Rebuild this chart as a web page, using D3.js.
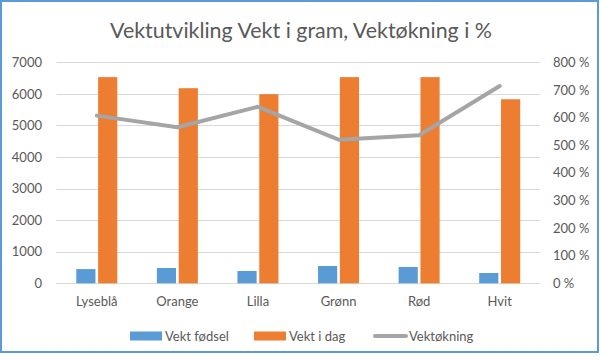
<!DOCTYPE html>
<html><head><meta charset="utf-8">
<script src="https://cdn.jsdelivr.net/npm/d3@7/dist/d3.min.js"></script>
<style>
html,body{margin:0;padding:0;background:#fff;}
svg text{font-family:Lato,"Open Sans",sans-serif;fill:#595959;}
</style></head>
<body><svg id="c" width="601" height="362"></svg>
<script>
const title = "Vektutvikling Vekt i gram, Vektøkning i %";
const categories = ["Lyseblå","Orange","Lilla","Grønn","Rød","Hvit"];
const vektFodsel = [450, 485, 390, 548, 516, 326];
const vektIDag = [6530, 6180, 5990, 6530, 6530, 5830];
const vektokning = [607, 565, 639, 520, 536, 714];
const leftTicks = [0,1000,2000,3000,4000,5000,6000,7000];
const rightTicks = [0,100,200,300,400,500,600,700,800];
const seriesNames = ["Vekt fødsel","Vekt i dag","Vektøkning"];
const colors = ["#5B9BD5","#ED7D31","#A5A5A5"];

const svg = d3.select("#c");
const plot = {left:56.5, right:540, top:62.3, bottom:283.3};

// frame
svg.append("rect").attr("x",1).attr("y",1).attr("width",597).attr("height",351)
  .attr("fill","#fff").attr("stroke","#5B9BD5").attr("stroke-width",2);

const x = d3.scaleBand().domain(categories).range([plot.left, plot.right]);
const yL = d3.scaleLinear().domain([0,7000]).range([plot.bottom, plot.top]);
const yR = d3.scaleLinear().domain([0,800]).range([plot.bottom, plot.top]);

// gridlines
svg.append("g").selectAll("line").data(leftTicks).join("line")
  .attr("x1",plot.left).attr("x2",plot.right)
  .attr("y1",d=>Math.round(yL(d))+0.5).attr("y2",d=>Math.round(yL(d))+0.5)
  .attr("stroke","#D9D9D9").attr("stroke-width",1);

const ff = "Lato,'Open Sans',sans-serif";
// left axis
const axL = d3.axisLeft(yL).tickValues(leftTicks).tickSize(0).tickPadding(0).tickFormat(d3.format("d"));
const gL = svg.append("g").attr("transform",`translate(42,0)`).call(axL);
gL.select(".domain").remove();
gL.selectAll("text").attr("font-size",13).style("font-family",ff).attr("fill","#595959");

// right axis
const axR = d3.axisRight(yR).tickValues(rightTicks).tickSize(0).tickPadding(0).tickFormat(d=>d+" %");
const gR = svg.append("g").attr("transform",`translate(553,0)`).call(axR);
gR.select(".domain").remove();
gR.selectAll("text").attr("font-size",13).style("font-family",ff).attr("fill","#595959");

// x axis labels
const axX = d3.axisBottom(x).tickSize(0).tickPadding(0);
const gX = svg.append("g").attr("transform",`translate(0,${plot.bottom+13})`).call(axX);
gX.select(".domain").remove();
gX.selectAll("text").attr("font-size",13).style("font-family",ff).attr("fill","#595959");

// bars
const inner = d3.scaleBand().domain([0,1]).range([-20.5, 20.5]).paddingInner(5/41);
const bw = inner.bandwidth();
const series = [vektFodsel, vektIDag];
series.forEach((vals,si)=>{
  svg.append("g").selectAll("rect").data(vals).join("rect")
    .attr("x",(d,i)=>x(categories[i]) + x.bandwidth()/2 + inner(si))
    .attr("width",bw)
    .attr("y",d=>yL(d))
    .attr("height",d=>yL(0)-yL(d))
    .attr("fill",colors[si]);
});

// line
const line = d3.line().x((d,i)=>x(categories[i])+x.bandwidth()/2).y(d=>yR(d));
svg.append("path").datum(vektokning).attr("d",line)
  .attr("fill","none").attr("stroke",colors[2]).attr("stroke-width",4)
  .attr("stroke-linejoin","round").attr("stroke-linecap","round");

// title
svg.append("text").attr("x",301).attr("y",38).attr("text-anchor","middle")
  .attr("font-size",22).attr("textLength",382).attr("lengthAdjust","spacingAndGlyphs").text(title);

// legend
const legY = 336;
const leg = [{x:130},{x:254},{x:373}];
leg.forEach((l,i)=>{
  if(i<2){
    svg.append("rect").attr("x",l.x).attr("y",legY-4.5).attr("width",32).attr("height",9).attr("fill",colors[i]);
  } else {
    svg.append("line").attr("x1",l.x+2).attr("x2",l.x+33).attr("y1",legY).attr("y2",legY)
      .attr("stroke",colors[2]).attr("stroke-width",4).attr("stroke-linecap","round");
  }
  svg.append("text").attr("x",l.x+(i<2?35:36)).attr("y",legY).attr("dy","0.35em")
    .attr("font-size",13).text(seriesNames[i]);
});
</script></body></html>
